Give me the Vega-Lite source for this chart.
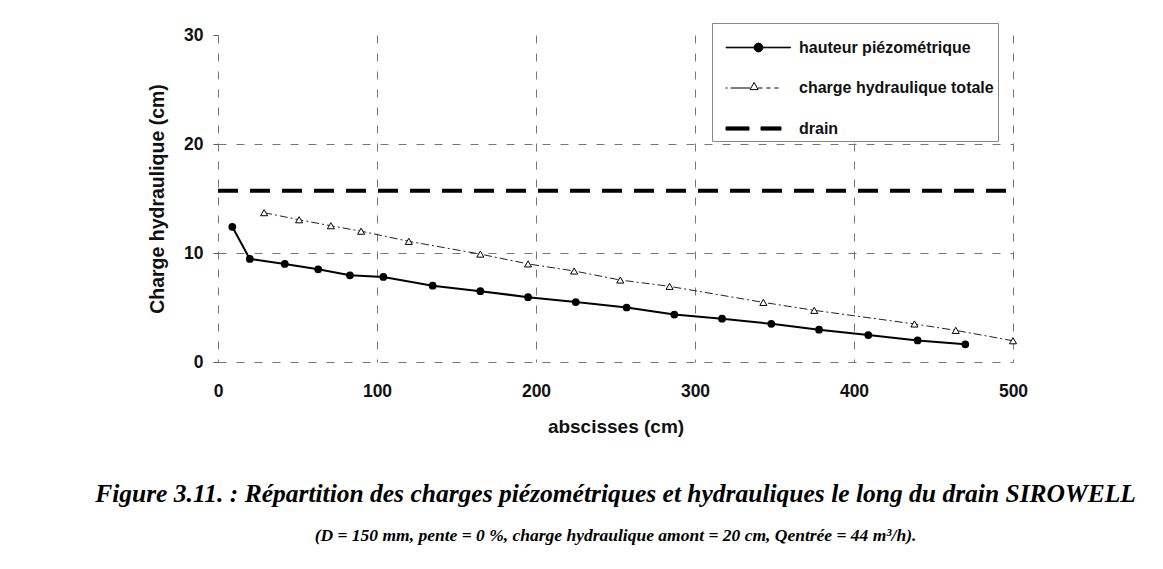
{
  "$schema": "https://vega.github.io/schema/vega-lite/v6.json",
  "width": 795,
  "height": 327,
  "autosize": {"type": "none"},
  "padding": {"left": 218, "top": 35, "right": 150, "bottom": 207},
  "background": "white",
  "config": {"view": {"stroke": null}, "font": "Liberation Sans"},
  "data": {
    "values": [
      {"serie": "hauteur piézométrique", "x": 9, "y": 12.4},
      {"serie": "hauteur piézométrique", "x": 20, "y": 9.45},
      {"serie": "hauteur piézométrique", "x": 42, "y": 9.0},
      {"serie": "hauteur piézométrique", "x": 63, "y": 8.5},
      {"serie": "hauteur piézométrique", "x": 83, "y": 7.95},
      {"serie": "hauteur piézométrique", "x": 104, "y": 7.8},
      {"serie": "hauteur piézométrique", "x": 135, "y": 7.0},
      {"serie": "hauteur piézométrique", "x": 165, "y": 6.5},
      {"serie": "hauteur piézométrique", "x": 195, "y": 5.95},
      {"serie": "hauteur piézométrique", "x": 225, "y": 5.5},
      {"serie": "hauteur piézométrique", "x": 257, "y": 5.0},
      {"serie": "hauteur piézométrique", "x": 287, "y": 4.35},
      {"serie": "hauteur piézométrique", "x": 317, "y": 3.97},
      {"serie": "hauteur piézométrique", "x": 348, "y": 3.5},
      {"serie": "hauteur piézométrique", "x": 378, "y": 2.96},
      {"serie": "hauteur piézométrique", "x": 409, "y": 2.47},
      {"serie": "hauteur piézométrique", "x": 440, "y": 1.98},
      {"serie": "hauteur piézométrique", "x": 470, "y": 1.62},
      {"serie": "charge hydraulique totale", "x": 29, "y": 13.7},
      {"serie": "charge hydraulique totale", "x": 51, "y": 13.05},
      {"serie": "charge hydraulique totale", "x": 71, "y": 12.5},
      {"serie": "charge hydraulique totale", "x": 90, "y": 12.0},
      {"serie": "charge hydraulique totale", "x": 120, "y": 11.07},
      {"serie": "charge hydraulique totale", "x": 165, "y": 9.9},
      {"serie": "charge hydraulique totale", "x": 195, "y": 9.0},
      {"serie": "charge hydraulique totale", "x": 224, "y": 8.35},
      {"serie": "charge hydraulique totale", "x": 253, "y": 7.52},
      {"serie": "charge hydraulique totale", "x": 284, "y": 6.94},
      {"serie": "charge hydraulique totale", "x": 343, "y": 5.47},
      {"serie": "charge hydraulique totale", "x": 375, "y": 4.74},
      {"serie": "charge hydraulique totale", "x": 438, "y": 3.49},
      {"serie": "charge hydraulique totale", "x": 464, "y": 2.9},
      {"serie": "charge hydraulique totale", "x": 500, "y": 1.95},
      {"serie": "drain", "x": 0, "y": 15.7},
      {"serie": "drain", "x": 500, "y": 15.7}
    ]
  },
  "title": {
    "text": "Figure 3.11. : Répartition des charges piézométriques et hydrauliques le long du drain SIROWELL",
    "subtitle": "(D = 150 mm, pente = 0 %, charge hydraulique amont = 20 cm, Qentrée = 44 m³/h).",
    "orient": "bottom",
    "anchor": "middle",
    "frame": "group",
    "font": "Liberation Serif",
    "fontSize": 25.5,
    "fontStyle": "italic",
    "fontWeight": "bold",
    "color": "black",
    "subtitleFont": "Liberation Serif",
    "subtitleFontSize": 17.5,
    "subtitleFontStyle": "italic",
    "subtitleFontWeight": "bold",
    "subtitleColor": "black",
    "subtitlePadding": 20,
    "offset": 45
  },
  "encoding": {
    "x": {
      "field": "x",
      "type": "quantitative",
      "scale": {"domain": [0, 500], "nice": false},
      "axis": {
        "values": [0, 100, 200, 300, 400, 500],
        "title": "abscisses (cm)",
        "domain": false,
        "grid": true,
        "gridDash": [8, 10],
        "gridColor": "#777",
        "gridWidth": 1,
        "ticks": false,
        "labelFlush": false,
        "labelPadding": 20,
        "labelFont": "Liberation Sans",
        "labelFontWeight": "bold",
        "labelFontSize": 17.5,
        "labelColor": "#111",
        "titleFont": "Liberation Sans",
        "titleFontWeight": "bold",
        "titleFontSize": 19,
        "titleColor": "#111",
        "titlePadding": 18
      }
    },
    "y": {
      "field": "y",
      "type": "quantitative",
      "scale": {"domain": [0, 30], "nice": false},
      "axis": {
        "values": [0, 10, 20, 30],
        "title": "Charge hydraulique (cm)",
        "domain": false,
        "grid": true,
        "gridDash": [8, 10],
        "gridColor": "#777",
        "gridWidth": 1,
        "gridOpacity": {"condition": {"test": "datum.value === 30", "value": 0}, "value": 1},
        "ticks": true,
        "tickSize": 5,
        "tickColor": "#555",
        "labelPadding": 10,
        "labelFont": "Liberation Sans",
        "labelFontWeight": "bold",
        "labelFontSize": 17.5,
        "labelColor": "#111",
        "titleFont": "Liberation Sans",
        "titleFontWeight": "bold",
        "titleFontSize": 19.5,
        "titleColor": "#111",
        "titlePadding": 16
      }
    }
  },
  "layer": [
    {
      "transform": [{"filter": "datum.serie === 'drain'"}],
      "mark": {"type": "line", "stroke": "black", "strokeWidth": 4, "strokeDash": [20, 12]}
    },
    {
      "transform": [{"filter": "datum.serie === 'charge hydraulique totale'"}],
      "mark": {"type": "line", "stroke": "#222", "strokeWidth": 1, "strokeDash": [8, 3, 2, 3]}
    },
    {
      "transform": [{"filter": "datum.serie === 'hauteur piézométrique'"}],
      "mark": {"type": "line", "stroke": "black", "strokeWidth": 2}
    },
    {
      "transform": [{"filter": "datum.serie === 'charge hydraulique totale'"}],
      "mark": {"type": "point", "shape": "triangle-up", "size": 50, "filled": true, "fill": "white", "stroke": "black", "strokeWidth": 1, "opacity": 1}
    },
    {
      "transform": [{"filter": "datum.serie === 'hauteur piézométrique'"}],
      "mark": {"type": "circle", "size": 60, "color": "black", "opacity": 1}
    },
    {
      "transform": [{"filter": "false"}],
      "mark": {"type": "point", "filled": true, "stroke": "black", "strokeWidth": 1, "opacity": 1},
      "encoding": {
        "shape": {
          "field": "serie",
          "type": "nominal",
          "scale": {
            "domain": ["hauteur piézométrique", "charge hydraulique totale", "drain"],
            "range": [
              "M-1.625,-0.015H1.6V0.015H-1.625ZM-0.22,0A0.22,0.22,0,1,0,0.22,0A0.22,0.22,0,1,0,-0.22,0Z",
              "M-1.65,0H-1.55M-1.4,0H-0.42M-0.02,0H0.2M0.4,0H0.6M0.8,0H1.0M-0.42,0.08L-0.22,-0.28L-0.02,0.08Z",
              "M-1.625,-0.08H-0.475V0.08H-1.625ZM0.125,-0.08H1.125V0.08H0.125Z"
            ]
          },
          "legend": {
            "title": null,
            "orient": "none",
            "legendX": 494,
            "legendY": -12,
            "symbolSize": 1600,
            "symbolOffset": 22,
            "symbolStrokeWidth": 1,
            "labelOffset": 20,
            "labelLimit": 300,
            "padding": 4,
            "rowPadding": 11.5,
            "labelFont": "Liberation Sans",
            "labelFontWeight": "bold",
            "labelFontSize": 16,
            "labelColor": "#111",
            "strokeColor": "#888",
            "fillColor": "white"
          }
        },
        "fill": {
          "field": "serie",
          "type": "nominal",
          "scale": {
            "domain": ["hauteur piézométrique", "charge hydraulique totale", "drain"],
            "range": ["black", "white", "black"]
          },
          "legend": {
            "title": null,
            "orient": "none",
            "legendX": 494,
            "legendY": -12,
            "symbolSize": 1600,
            "symbolOffset": 22,
            "symbolStrokeWidth": 1,
            "labelOffset": 20,
            "labelLimit": 300,
            "padding": 4,
            "rowPadding": 11.5,
            "labelFont": "Liberation Sans",
            "labelFontWeight": "bold",
            "labelFontSize": 16,
            "labelColor": "#111",
            "strokeColor": "#888",
            "fillColor": "white"
          }
        }
      }
    }
  ]
}
